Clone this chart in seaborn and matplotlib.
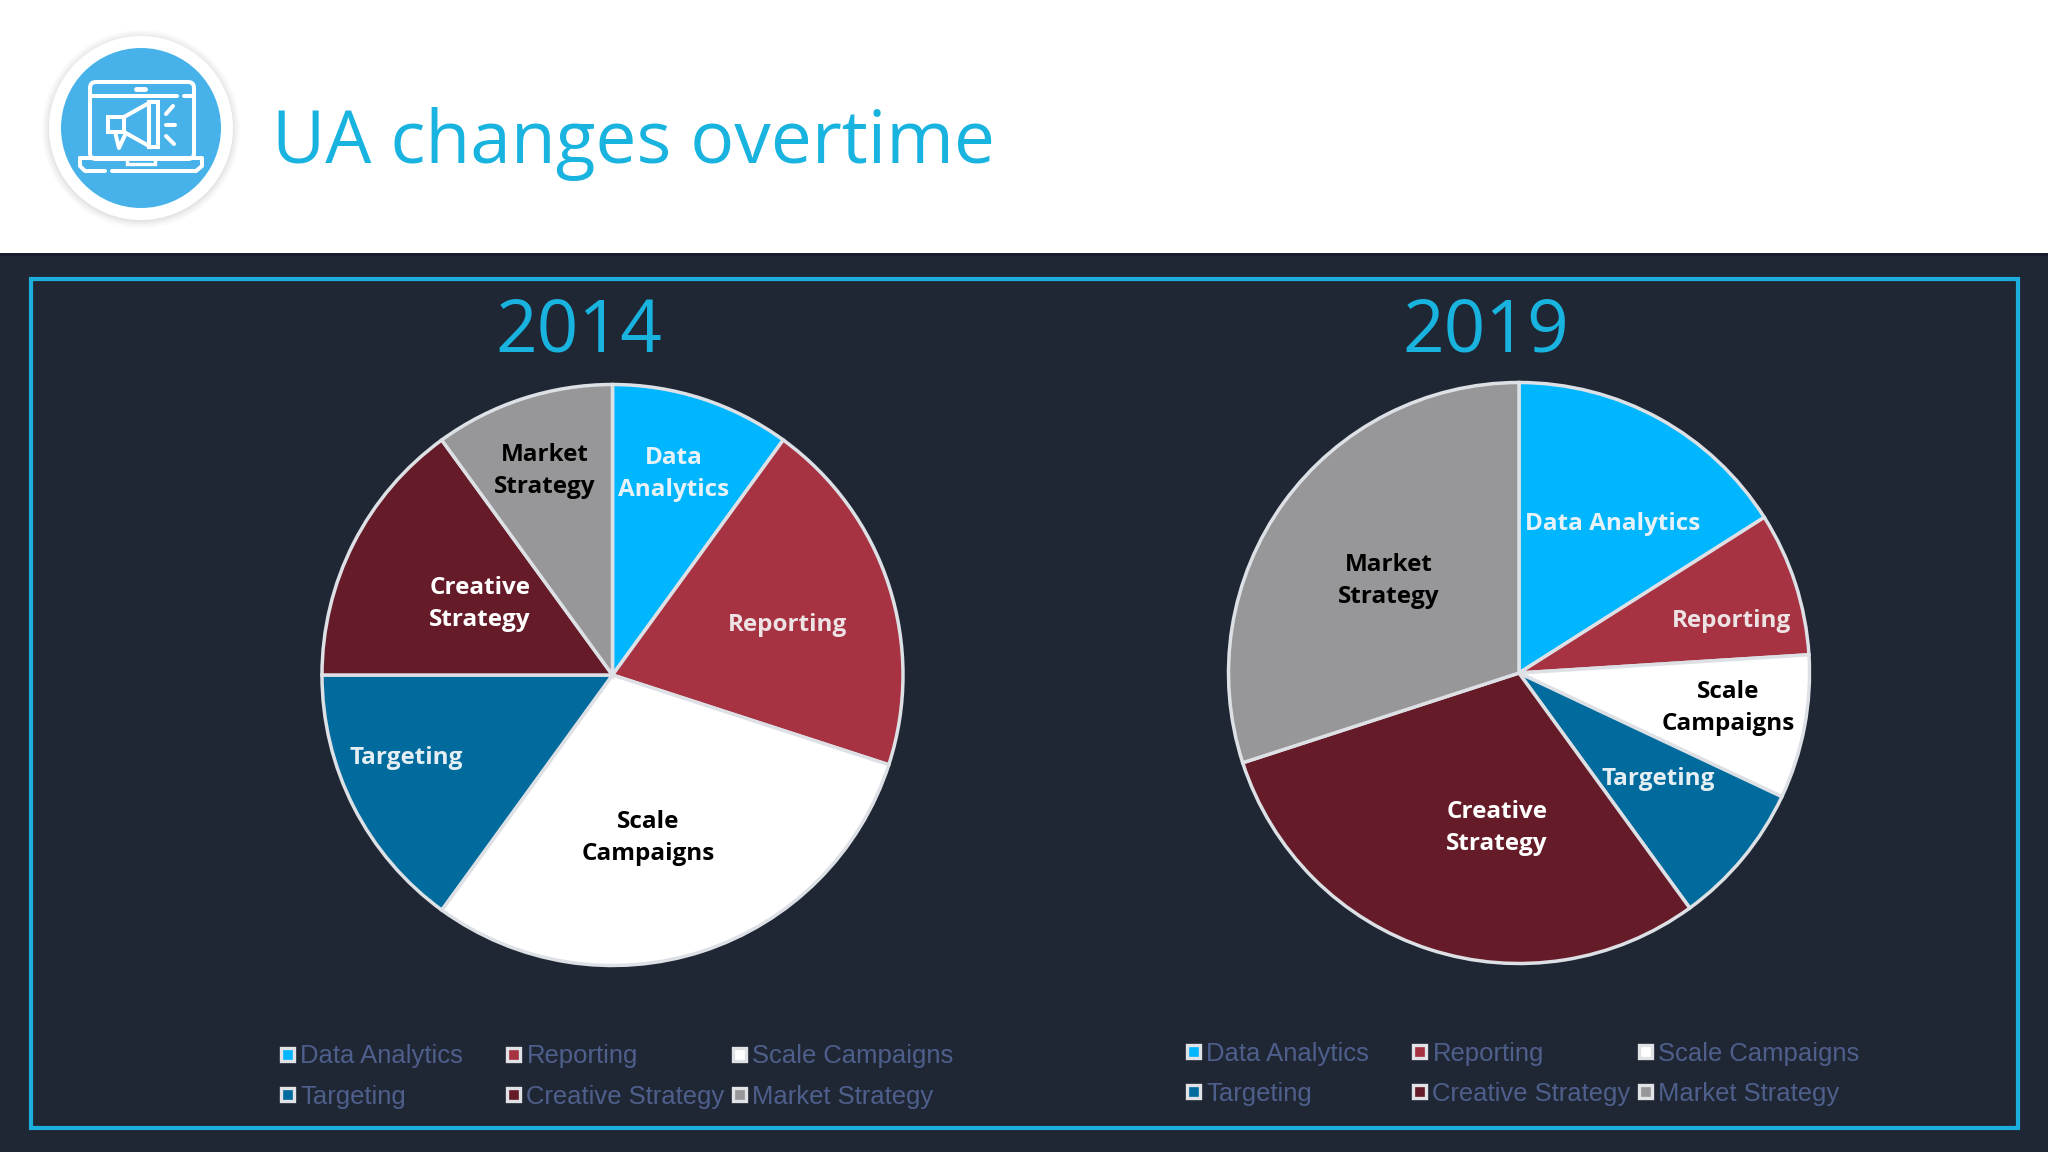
import matplotlib
matplotlib.use("Agg")
import matplotlib.pyplot as plt
from matplotlib.patches import Circle, Rectangle, FancyBboxPatch, Polygon
import seaborn as sns

sns.set_theme(style="white")
plt.rcParams['font.family'] = ['Open Sans', 'DejaVu Sans']

categories = ["Data Analytics", "Reporting", "Scale Campaigns",
              "Targeting", "Creative Strategy", "Market Strategy"]
values_2014 = [10, 20, 30, 15, 15, 10]
values_2019 = [16, 8, 8, 8, 30, 30]
slice_colors = ["#00B6FF", "#A63242", "#FFFFFF", "#006B9C", "#651C28", "#979698"]
label_colors = ["#E6F1F8", "#EDE2E4", "black", "#E4EEF3", "white", "black"]
labels_2014 = ["Data\nAnalytics", "Reporting", "Scale\nCampaigns",
               "Targeting", "Creative\nStrategy", "Market\nStrategy"]
labels_2019 = ["Data Analytics", "Reporting", "Scale\nCampaigns",
               "Targeting", "Creative\nStrategy", "Market\nStrategy"]

BAND = "#1F2735"
FRAME = "#1CAEDD"
TITLE = "#19B3DF"
EDGE = "#DDE1E6"
LEGEND_TEXT = "#4F5F8C"
W, H = 2048, 1152

palette = sns.color_palette(slice_colors)

fig = plt.figure(figsize=(W / 100, H / 100), dpi=100, facecolor="white")
bg = fig.add_axes([0, 0, 1, 1])
bg.set_xlim(0, W)
bg.set_ylim(H, 0)
bg.axis("off")

# dark band and frame
bg.add_patch(Rectangle((0, 253), W, H - 253, fc=BAND, ec="none", zorder=1))
bg.add_patch(Rectangle((0, 253), W, 3, fc="#171C2C", ec="none", zorder=1))
bg.add_patch(Rectangle((31, 279), 1987, 849, fc="none", ec=FRAME, lw=3, zorder=2))

# icon
for r, a in [(99, .03), (97, .04), (95, .05), (93, .07)]:
    bg.add_patch(Circle((141, 129), r, fc="#777777", ec="none", alpha=a, zorder=2))
bg.add_patch(Circle((141, 128), 92, fc="white", ec="none", zorder=3))
bg.add_patch(Circle((141, 128), 80, fc="#47B2E9", ec="none", zorder=4))
ic = dict(color="white", lw=2.9, zorder=5, solid_capstyle="round", solid_joinstyle="round")
bg.add_patch(FancyBboxPatch((93, 85), 98, 71, boxstyle="round,pad=3,rounding_size=6",
                            fc="none", ec="white", lw=2.9, zorder=5))
bg.plot([90, 177], [96, 96], **ic)
bg.plot([184, 194], [96, 96], **ic)
bg.plot([136, 145], [89, 89], color="white", lw=3.5, zorder=5)
bg.plot([80, 202, 202, 196, 112], [158, 158, 166, 171, 171], **ic)
bg.plot([80, 80, 85, 105], [158, 166, 171, 171], **ic)
bg.add_patch(Rectangle((127, 158), 28, 6, fc="none", ec="white", lw=2.4, zorder=5))
bg.add_patch(Polygon([(108, 117), (124, 117), (149, 103), (149, 146), (124, 132), (108, 132)],
                     closed=True, fc="none", ec="white", lw=2.9, zorder=5))
bg.add_patch(Rectangle((149, 102), 9, 45, fc="none", ec="white", lw=2.9, zorder=5))
bg.plot([124, 124], [117, 132], **ic)
bg.plot([115, 119, 125], [132, 148, 135], **ic)
bg.plot([173, 166], [106, 114], **ic)
bg.plot([166, 175], [125, 125], **ic)
bg.plot([166, 174], [136, 144], **ic)

# title
bg.text(272, 163, "UA changes overtime", color=TITLE, fontsize=52.6, ha="left",
        va="baseline", zorder=5)


def draw_pie(values, cx, cy, r):
    ax = fig.add_axes([(cx - r) / W, 1 - (cy + r) / H, 2 * r / W, 2 * r / H])
    ax.pie(values, colors=palette, startangle=90, counterclock=False, radius=1,
           wedgeprops=dict(edgecolor=EDGE, linewidth=2.5))
    ax.set_xlim(-1, 1)
    ax.set_ylim(-1, 1)
    ax.axis("off")


draw_pie(values_2014, 612.5, 675, 290.5)
draw_pie(values_2019, 1519, 673, 290.5)

top = fig.add_axes([0, 0, 1, 1], facecolor="none")
top.set_xlim(0, W)
top.set_ylim(H, 0)
top.axis("off")

top.text(578.5, 352, "2014", color=TITLE, fontsize=52.5, ha="center", va="baseline")
top.text(1486, 352, "2019", color=TITLE, fontsize=52.5, ha="center", va="baseline")

pos_2014 = [(674, 474), (788, 625), (648, 838), (406, 758), (480, 604), (545, 471)]
pos_2019 = [(1613, 524), (1731, 621), (1728, 708), (1658, 779), (1497, 828), (1389, 581)]
for labels, positions in [(labels_2014, pos_2014), (labels_2019, pos_2019)]:
    for lab, (x, y), col in zip(labels, positions, label_colors):
        top.text(x, y, lab, color=col, fontsize=17.5, fontweight="bold", ha="center",
                 va="center", linespacing=1.47, multialignment="center")


def draw_legend(x0, y0):
    xs = [287.5, 513.5, 739.5]
    ys = [1054, 1094.5]
    for i, cat in enumerate(categories):
        x = xs[i % 3] + x0
        y = ys[i // 3] + y0
        top.add_patch(Rectangle((x - 6.5, y - 6.5), 13, 13, fc=palette[i], ec="#E0E2E6", lw=2.4))
        top.text(x + 13, y, cat, color=LEGEND_TEXT, fontsize=18.45, family="Liberation Sans",
                 ha="left", va="center_baseline")


draw_legend(0, 0)
draw_legend(906, -3)

fig.savefig("out.png", dpi=100)
